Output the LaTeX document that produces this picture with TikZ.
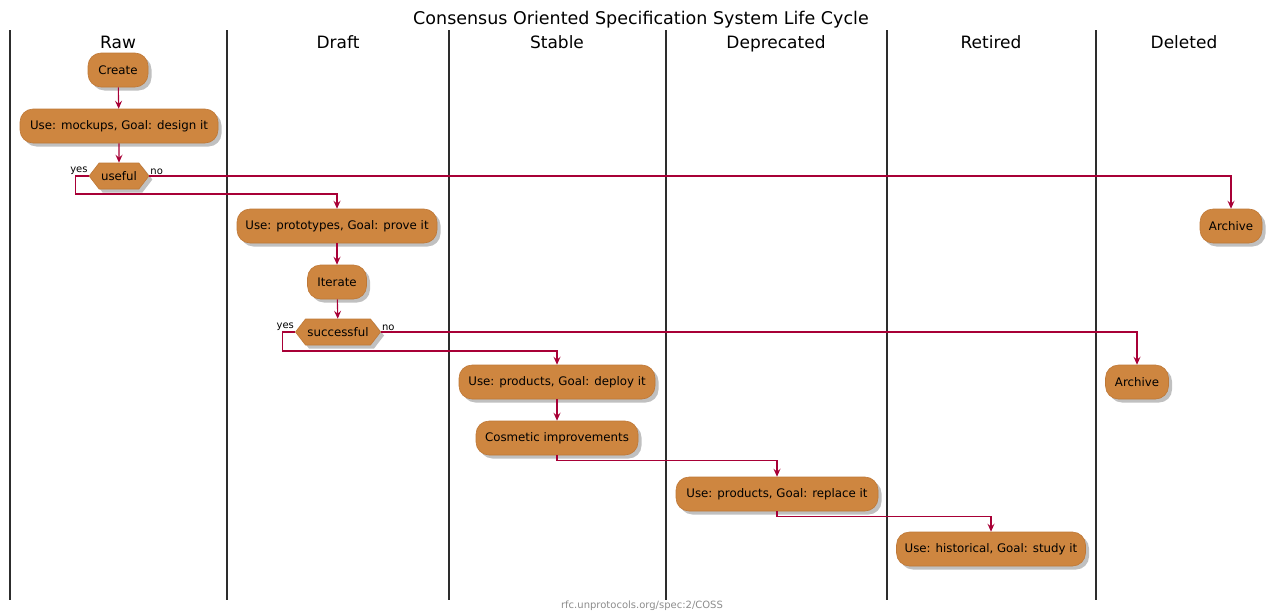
\documentclass[tikz,border=0pt]{standalone}
\usepackage{fontspec}
\setmainfont{DejaVu Sans}
\usetikzlibrary{shapes.symbols,shadows,arrows.meta}
\definecolor{actfill}{RGB}{206,134,64}
\definecolor{actedge}{RGB}{190,120,55}
\definecolor{flowcol}{RGB}{168,0,54}
\definecolor{lanecol}{RGB}{45,45,45}
\begin{document}
\begin{tikzpicture}[x=1pt,y=-1pt,
  shade/.style={drop shadow={shadow xshift=3.5pt,shadow yshift=-3.5pt,opacity=0.45,fill=black!55}},
  act/.style={draw=actedge, line width=0.6pt, fill=actfill, rounded corners=13pt,
    minimum height=34pt, inner xsep=2pt, font=\fontsize{11.8}{13}\selectfont, shade},
  choice/.style={signal, signal to=west and east, signal pointer angle=105,
    draw=actedge, line width=0.6pt, fill=actfill, minimum height=26pt, inner xsep=2pt,
    font=\fontsize{11.8}{13}\selectfont, shade},
  flow/.style={draw=flowcol, line width=1.1pt, -{Stealth[length=8pt,width=7pt,inset=3pt]}},
  lane/.style={draw=lanecol, line width=2pt},
  lanetitle/.style={font=\fontsize{17}{20}\selectfont, anchor=base},
  branch/.style={font=\fontsize{10}{12}\selectfont, inner sep=1pt}]

\useasboundingbox (0,0) rectangle (1266,613);

% title and footer
\node[font=\fontsize{17.5}{20}\selectfont, anchor=base] (title) at (641,24) {Consensus Oriented Specification System Life Cycle};
\node[font=\fontsize{10}{12}\selectfont, text=black!45, anchor=base] (footer) at (642,608) {rfc.unprotocols.org/spec:2/COSS};

% swimlane separators
\foreach \x/\n in {10/l0,227/l1,449/l2,666/l3,887/l4,1096/l5}
  \draw[lane] (\x,30) coordinate (\n top) -- (\x,600) coordinate (\n bot);

% lane headings
\node[lanetitle] (hraw) at (118,48) {Raw};
\node[lanetitle] (hdraft) at (338,48) {Draft};
\node[lanetitle] (hstable) at (557,48) {Stable};
\node[lanetitle] (hdep) at (776,48) {Deprecated};
\node[lanetitle] (hret) at (991,48) {Retired};
\node[lanetitle] (hdel) at (1184,48) {Deleted};

% activities
\node[act, minimum width=60pt] (create) at (118,70) {Create};
\node[act, minimum width=198pt] (design) at (119,126) {Use: mockups, Goal: design it};
\node[choice, minimum width=58pt] (useful) at (119,176) {useful};
\node[act, minimum width=200pt] (proto) at (337,226) {Use: prototypes, Goal: prove it};
\node[act, minimum width=62pt] (archdel) at (1231,226) {Archive};
\node[act, minimum width=59pt] (iter) at (337,282) {Iterate};
\node[choice, minimum width=82pt] (success) at (338,332) {successful};
\node[act, minimum width=196pt] (deploy) at (557,382) {Use: products, Goal: deploy it};
\node[act, minimum width=63pt] (archret) at (1137,382) {Archive};
\node[act, minimum width=162pt] (cosm) at (557,438) {Cosmetic improvements};
\node[act, minimum width=202pt] (replace) at (777,494) {Use: products, Goal: replace it};
\node[act, minimum width=189pt] (study) at (991,549) {Use: historical, Goal: study it};

% branch labels
\node[branch, anchor=south east] (uyes) at (useful.west) {yes};
\node[branch, anchor=south west] (uno) at (useful.east) {no};
\node[branch, anchor=south east] (syes) at (success.west) {yes};
\node[branch, anchor=south west] (sno) at (success.east) {no};

% control flow
\draw[flow] (create) -- (design);
\draw[flow] (design) -- (useful);
\draw[flow] (useful.west) -- ++(-13,0) -- ++(0,18) -| (proto.north);
\draw[flow] (useful.east) -| (archdel.north);
\draw[flow] (proto) -- (iter);
\draw[flow] (iter) -- (success);
\draw[flow] (success.west) -- ++(-13,0) -- ++(0,19) -| (deploy.north);
\draw[flow] (success.east) -| (archret.north);
\draw[flow] (deploy) -- (cosm);
\draw[flow] (cosm.south) -- ++(0,5) -| (replace.north);
\draw[flow] (replace.south) -- ++(0,5) -| (study.north);
\end{tikzpicture}
\end{document}
